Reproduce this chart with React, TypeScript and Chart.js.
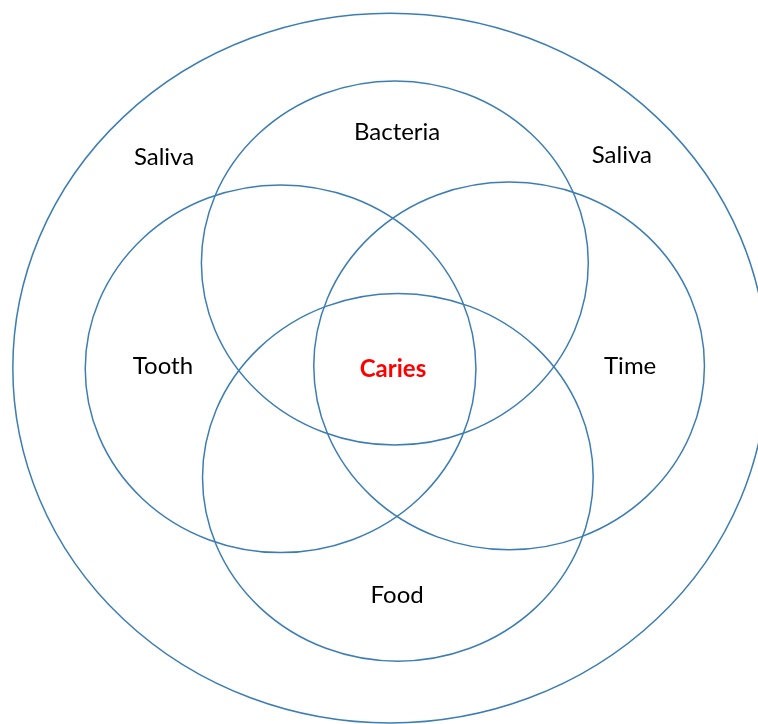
import React, { useEffect, useRef } from "react";
import { Chart, registerables } from "chart.js";

Chart.register(...registerables);

// Circle sets (centre x, centre y, radius in data units)
const circleNames = ["Saliva", "Bacteria", "Tooth", "Time", "Food"];
const circleX = [0, 1.3, -29, 31.6, 2.1];
const circleY = [0, 29.6, -0.2, 0.6, -30.8];
const circleR = [100, 51.3, 51.8, 51.8, 51.8];

// Text labels
const labelTexts = ["Saliva", "Saliva", "Bacteria", "Tooth", "Time", "Caries", "Food"];
const labelX = [-59.9, 61.5, 1.9, -60.2, 63.7, 0.8, 1.9];
const labelY = [59.4, 60.0, 66.3, 0.6, 0.6, -0.3, -63.9];
const labelHighlight = [false, false, false, false, false, true, false];

const LINE_COLOR = "#3C7DB4";
const FONT = "Lato, 'Open Sans', sans-serif";

const vennPlugin = {
  id: "vennPlugin",
  afterDatasetsDraw(chart: any) {
    const { ctx, scales } = chart;
    const xs = scales.x;
    const ys = scales.y;
    ctx.save();
    ctx.strokeStyle = LINE_COLOR;
    ctx.lineWidth = 1.5;
    for (let i = 0; i < circleNames.length; i++) {
      const cx = xs.getPixelForValue(circleX[i]);
      const cy = ys.getPixelForValue(circleY[i]);
      const rx = Math.abs(xs.getPixelForValue(circleX[i] + circleR[i]) - cx);
      const ry = Math.abs(ys.getPixelForValue(circleY[i] + circleR[i]) - cy);
      ctx.beginPath();
      ctx.ellipse(cx, cy, rx, ry, 0, 0, Math.PI * 2);
      ctx.stroke();
    }
    ctx.textAlign = "center";
    ctx.textBaseline = "middle";
    for (let i = 0; i < labelTexts.length; i++) {
      const px = xs.getPixelForValue(labelX[i]);
      const py = ys.getPixelForValue(labelY[i]);
      if (labelHighlight[i]) {
        ctx.fillStyle = "#FF0000";
        ctx.font = `bold 24px ${FONT}`;
      } else {
        ctx.fillStyle = "#000000";
        ctx.font = `24px ${FONT}`;
      }
      ctx.fillText(labelTexts[i], px, py);
    }
    ctx.restore();
  },
};

export default function App() {
  const ref = useRef<HTMLCanvasElement | null>(null);
  useEffect(() => {
    document.body.style.margin = "0";
    const canvas = ref.current;
    if (!canvas) return;
    const chart = new Chart(canvas, {
      type: "scatter",
      data: {
        datasets: [
          {
            label: "sets",
            data: circleX.map((x, i) => ({ x, y: circleY[i] })),
            pointRadius: 0,
            pointHoverRadius: 0,
          },
        ],
      },
      options: {
        animation: false,
        responsive: false,
        maintainAspectRatio: false,
        layout: { padding: 0 },
        plugins: {
          legend: { display: false },
          tooltip: { enabled: false },
        },
        scales: {
          x: { type: "linear", min: -103.4, max: 97.6, display: false },
          y: { type: "linear", min: -100.3, max: 103.7, display: false },
        },
      },
      plugins: [vennPlugin],
    });
    return () => chart.destroy();
  }, []);
  return (
    <div style={{ width: 758, height: 724, background: "#fff" }}>
      <canvas ref={ref} width={758} height={724} style={{ display: "block" }} />
    </div>
  );
}
